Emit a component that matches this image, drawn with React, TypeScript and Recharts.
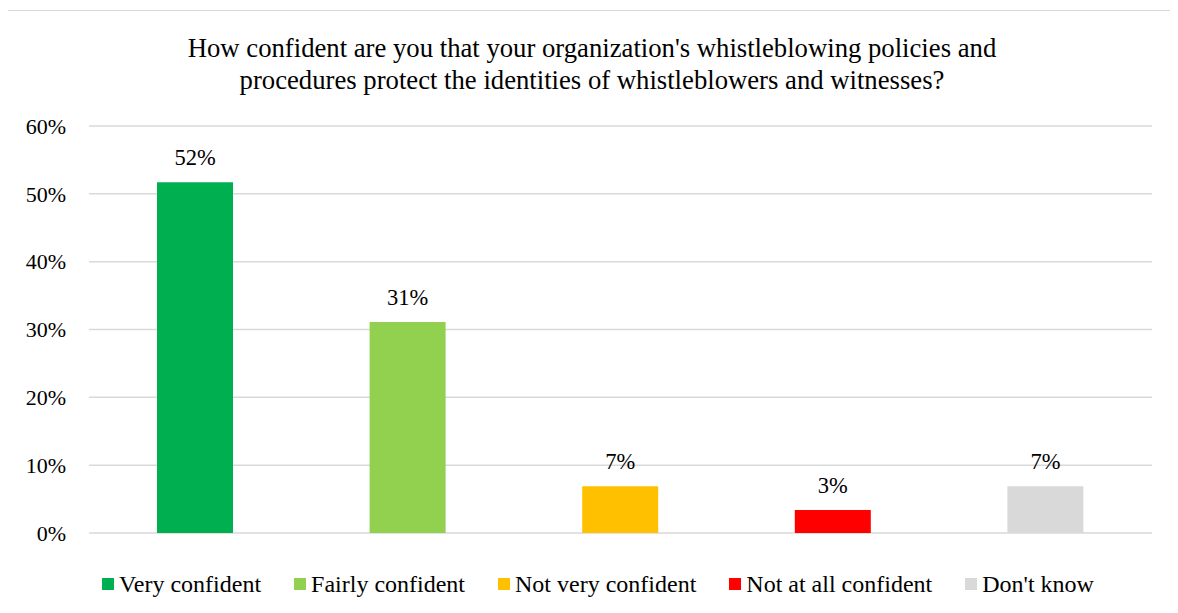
import React from 'react';
import { BarChart, Bar, XAxis, YAxis, CartesianGrid, Cell, LabelList } from 'recharts';

const categories = ['Very confident', 'Fairly confident', 'Not very confident', 'Not at all confident', "Don't know"];
const values = [51.7, 31.1, 6.9, 3.4, 6.9];
const colors = ['#00B050', '#92D050', '#FFC000', '#FF0000', '#D9D9D9'];
const yTicks = [0, 10, 20, 30, 40, 50, 60];
const titleLines = [
  "How confident are you that your organization's whistleblowing policies and",
  'procedures protect the identities of whistleblowers and witnesses?',
];

const data = categories.map((c, i) => ({ name: c, value: values[i] }));
const FONT = '"Liberation Serif", "Times New Roman", serif';

export default function App() {
  return (
    <div style={{ position: 'relative', width: 1178, height: 613, margin: -8, overflow: 'hidden', background: '#fff', fontFamily: FONT }}>
      <div style={{ position: 'absolute', left: 7, top: 10, width: 1200, height: 700, border: '1.5px solid #d9d9d9', boxSizing: 'border-box' }} />
      <div style={{ position: 'absolute', left: 7, top: 32, width: 1170, textAlign: 'center', fontSize: 26.7, lineHeight: '32px', color: '#000' }}>
        {titleLines.map((l, i) => (
          <div key={i}>{l}</div>
        ))}
      </div>
      <div style={{ position: 'absolute', left: 0, top: 0 }}>
        <BarChart width={1178} height={613} data={data} margin={{ top: 126, right: 26, bottom: 80, left: 29 }}>
          <CartesianGrid vertical={false} stroke="#d9d9d9" strokeWidth={1.5} />
          <XAxis dataKey="name" hide />
          <YAxis
            domain={[0, 60]}
            ticks={yTicks}
            width={60}
            axisLine={false}
            tickLine={false}
            tickSize={0}
            tickMargin={23}
            interval={0}
            tickFormatter={(v: number) => `${v}%`}
            tick={{ fill: '#000', fontSize: 22, fontFamily: FONT }}
          />
          <Bar dataKey="value" barSize={76} isAnimationActive={false}>
            {data.map((d, i) => (
              <Cell key={d.name} fill={colors[i]} />
            ))}
            <LabelList
              dataKey="value"
              position="top"
              offset={17}
              formatter={(v: number) => `${Math.round(v)}%`}
              style={{ fill: '#000', fontSize: 22.5, fontFamily: FONT }}
            />
          </Bar>
        </BarChart>
      </div>
      <div style={{ position: 'absolute', left: 7, width: 1182, top: 568, display: 'flex', justifyContent: 'center', fontSize: 24, lineHeight: '32px', color: '#000' }}>
        {categories.map((c, i) => (
          <div key={c} style={{ display: 'flex', alignItems: 'center', marginRight: i < categories.length - 1 ? 33 : 0 }}>
            <span style={{ display: 'inline-block', width: 12, height: 12, background: colors[i], marginRight: 5 }} />
            <span>{c}</span>
          </div>
        ))}
      </div>
    </div>
  );
}
